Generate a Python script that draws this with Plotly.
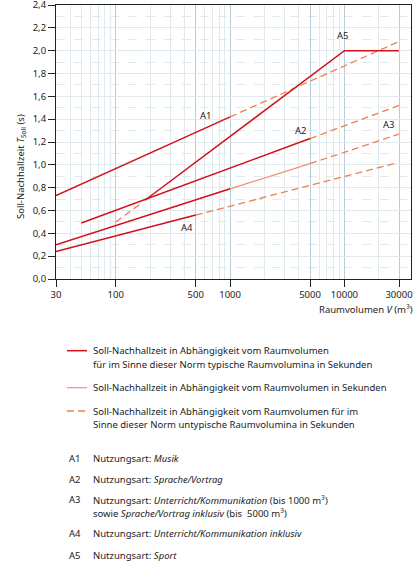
import math
import plotly.graph_objects as go

# ---- data ----
x_tick_vals = [30, 100, 500, 1000, 5000, 10000, 30000]
x_tick_text = ["30", "100", "500", "1000", "5000", "10000", "30000"]

# A1 Musik
a1_solid_v = [30, 1000]
a1_solid_t = [0.73, 1.42]
a1_dash_v = [1000, 30000]
a1_dash_t = [1.42, 2.08]

# A2 Sprache/Vortrag
a2_solid_v = [50, 5000]
a2_solid_t = [0.49, 1.23]
a2_dash_v = [5000, 30000]
a2_dash_t = [1.23, 1.52]

# A3 Unterricht/Kommunikation
a3_solid_v = [30, 1000]
a3_solid_t = [0.30, 0.79]
a3_light_v = [1000, 5000]
a3_light_t = [0.79, 1.01]
a3_dash_v = [5000, 30000]
a3_dash_t = [1.01, 1.27]

# A4 Unterricht/Kommunikation inklusiv
a4_solid_v = [30, 500]
a4_solid_t = [0.24, 0.56]
a4_dash_v = [500, 27000]
a4_dash_t = [0.56, 1.01]

# A5 Sport
a5_dash_v = [100, 165]
a5_dash_t = [0.50, 0.66]
a5_solid_v = [180, 10000, 30000]
a5_solid_t = [0.69, 2.00, 2.00]

labels = ["A1", "A2", "A3", "A4", "A5"]
label_v = [615, 4180, 24500, 417, 9670]
label_t = [1.43, 1.305, 1.35, 0.447, 2.13]

# ---- styles ----
DARK = "#d2101c"
LIGHT = "#f2906c"
DASH = "#ee8050"
FONT = "Noto Sans"
FS = 9.5
TXT = "#222222"

fig = go.Figure()

def add(v, t, color, width, dash=None):
    fig.add_trace(go.Scatter(x=v, y=t, mode="lines",
                             line=dict(color=color, width=width, dash=dash or "solid"),
                             showlegend=False, hoverinfo="skip"))

dash_pat = "7px,4px"
add(a1_dash_v, a1_dash_t, DASH, 1.3, dash_pat)
add(a2_dash_v, a2_dash_t, DASH, 1.3, dash_pat)
add(a3_dash_v, a3_dash_t, DASH, 1.3, dash_pat)
add(a4_dash_v, a4_dash_t, DASH, 1.3, dash_pat)
add(a5_dash_v, a5_dash_t, DASH, 1.3, dash_pat)
add(a3_light_v, a3_light_t, LIGHT, 1.2)
add(a1_solid_v, a1_solid_t, DARK, 1.5)
add(a2_solid_v, a2_solid_t, DARK, 1.5)
add(a3_solid_v, a3_solid_t, DARK, 1.5)
add(a4_solid_v, a4_solid_t, DARK, 1.5)
add(a5_solid_v, a5_solid_t, DARK, 1.5)

annotations = []
for lab, v, t in zip(labels, label_v, label_t):
    annotations.append(dict(x=math.log10(v), y=t, xref="x", yref="y", text=lab,
                            showarrow=False, font=dict(family=FONT, size=FS, color=TXT)))

# plot area in pixels: x 56..411, y 5..279
L, R, T, B = 56, 411, 5, 279
def px(xp):
    return (xp - L) / (R - L)
def py(yp):
    return (B - yp) / (B - T)

annotations.append(dict(x=px(12), y=py(167), xref="paper", yref="paper",
                        text="Soll-Nachhallzeit <i>T</i><sub>Soll</sub> (s)", textangle=-90,
                        showarrow=False, font=dict(family=FONT, size=FS, color=TXT)))
annotations.append(dict(x=px(415), y=py(309), xref="paper", yref="paper", xanchor="right",
                        yanchor="middle",
                        text="Raumvolumen <i>V</i> (m<sup>3</sup>)",
                        showarrow=False, font=dict(family=FONT, size=FS, color=TXT)))

legend_lines = [
    (350.7, "Soll-Nachhallzeit in Abhängigkeit vom Raumvolumen"),
    (364.0, "für im Sinne dieser Norm typische Raumvolumina in Sekunden"),
    (387.7, "Soll-Nachhallzeit in Abhängigkeit vom Raumvolumen in Sekunden"),
    (411.0, "Soll-Nachhallzeit in Abhängigkeit vom Raumvolumen für im"),
    (424.3, "Sinne dieser Norm untypische Raumvolumina in Sekunden"),
    (458.3, "Nutzungsart: <i>Musik</i>"),
    (479.0, "Nutzungsart: <i>Sprache/Vortrag</i>"),
    (499.7, "Nutzungsart: <i>Unterricht/Kommunikation</i> (bis 1000 m<sup>3</sup>)"),
    (512.7, "sowie <i>Sprache/Vortrag inklusiv</i> (bis  5000 m<sup>3</sup>)"),
    (533.7, "Nutzungsart: <i>Unterricht/Kommunikation inklusiv</i>"),
    (555.0, "Nutzungsart: <i>Sport</i>"),
]
for yy, txt in legend_lines:
    annotations.append(dict(x=px(91), y=py(yy), xref="paper", yref="paper", xanchor="left",
                            yanchor="middle", text=txt, showarrow=False,
                            font=dict(family=FONT, size=FS, color=TXT)))
for yy, lab in zip([458.3, 479.0, 499.7, 533.7, 555.0], labels):
    annotations.append(dict(x=px(67), y=py(yy), xref="paper", yref="paper", xanchor="left",
                            yanchor="middle", text=lab, showarrow=False,
                            font=dict(family=FONT, size=FS, color=TXT)))

shapes = [
    dict(type="line", xref="paper", yref="paper", x0=px(67), x1=px(87), y0=py(350.7), y1=py(350.7),
         line=dict(color=DARK, width=1.5)),
    dict(type="line", xref="paper", yref="paper", x0=px(67), x1=px(87), y0=py(387.7), y1=py(387.7),
         line=dict(color=LIGHT, width=1.2)),
    dict(type="line", xref="paper", yref="paper", x0=px(67), x1=px(87), y0=py(411.0), y1=py(411.0),
         line=dict(color=DASH, width=1.3, dash="7px,4px")),
]

fig.update_layout(
    width=416, height=563,
    margin=dict(l=L, r=416 - R, t=T, b=563 - B, pad=0, autoexpand=False),
    paper_bgcolor="white", plot_bgcolor="white",
    separators=",.",
    font=dict(family=FONT, size=FS, color=TXT),
    annotations=annotations, shapes=shapes,
    showlegend=False,
)
fig.update_xaxes(
    type="log", range=[math.log10(30), math.log10(38200)],
    automargin=False,
    tickmode="array", tickvals=x_tick_vals, ticktext=x_tick_text,
    ticks="outside", ticklen=7, tickcolor="#222", tickfont=dict(size=FS, color=TXT),
    ticklabeloverflow="allow",
    showgrid=True, gridcolor="#b9cdd6", gridwidth=1,
    showline=True, mirror=True, linecolor="#222", linewidth=1,
    zeroline=False,
    minor=dict(tickmode="linear", dtick="D1", showgrid=True, gridcolor="#e0e9ed", gridwidth=1, ticks=""),
)
fig.update_yaxes(
    range=[0, 2.4], dtick=0.2, tick0=0, tickformat=".1f",
    automargin=False,
    ticks="outside", ticklen=7, tickcolor="#222", tickfont=dict(size=FS, color=TXT),
    ticklabeloverflow="allow",
    showgrid=True, gridcolor="#e0e9ed", gridwidth=1,
    showline=True, mirror=True, linecolor="#222", linewidth=1,
    zeroline=False,
    minor=dict(dtick=0.1, showgrid=True, gridcolor="#e0e9ed", griddash="dash", gridwidth=1, ticks=""),
)

fig.write_html("out.html", config={"displayModeBar": False},
               post_script="document.body.style.margin='0';")
